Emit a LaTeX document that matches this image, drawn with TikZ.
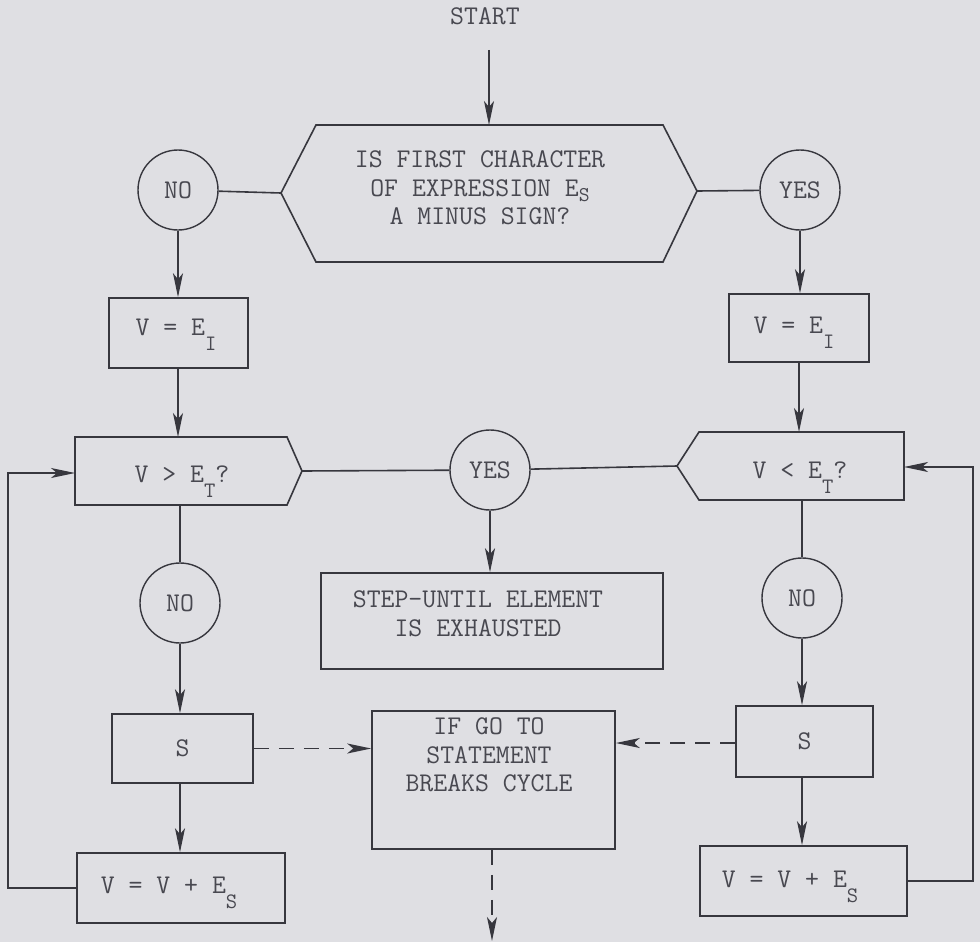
\documentclass[tikz,border=0pt]{standalone}
\usetikzlibrary{arrows.meta}
\definecolor{bg}{RGB}{223,223,227}
\definecolor{ink}{RGB}{55,55,62}
\definecolor{txtc}{RGB}{72,72,80}
\newcommand\subI[1]{\raisebox{-15pt}{\fontsize{22}{22}\selectfont #1}}
\newcommand\subH[1]{\raisebox{-5pt}{\fontsize{21}{21}\selectfont #1}}
\begin{document}
\begin{tikzpicture}[x=1pt,y=-1pt,
  every node/.style={font=\fontsize{27}{28.5}\selectfont\ttfamily, text=txtc},
  box/.style={draw=ink, line width=1.6pt, rectangle, inner sep=0pt},
  circ/.style={draw=ink, line width=1.4pt, circle, minimum size=80pt, inner sep=0pt},
  line/.style={draw=ink, line width=1.6pt},
  arr/.style={line, -{Stealth[length=24pt,width=10pt,inset=6pt]}},
  darr/.style={arr, dash pattern=on 15pt off 10pt}]
\fill[bg] (0,0) rectangle (980,942);
\useasboundingbox (0,0) rectangle (980,942);

% ---- top
\node[anchor=base] (start) at (485,25) {START};
\coordinate (s0) at (489,50);
\coordinate (hexT) at (489,125);
\coordinate (hexL) at (281,193);
\coordinate (hexR) at (697,191);
\draw[line, line join=miter] (316,125) -- (663,125) -- (hexR) -- (663,262) -- (316,262) -- (hexL) -- cycle;
\node[align=center] (hexText) at (480,188) {IS FIRST CHARACTER\\OF EXPRESSION E\subH{S}\\A MINUS SIGN?};
\draw[arr] (s0) -- (hexT);

\node[circ] (noT) at (178,190) {NO};
\node[circ] (yesT) at (800,190) {YES};
\draw[line] (noT) -- (hexL);
\draw[line] (hexR) -- (yesT);

% ---- V = E_I boxes
\node[box, minimum width=139pt, minimum height=70pt] (bL1) at (178.5,333) {};
\node[anchor=base] (tL1) at (176,335) {V = E\subI{I}};
\node[box, minimum width=140pt, minimum height=68pt] (bR1) at (799,328) {};
\node[anchor=base] (tR1) at (794,333) {V = E\subI{I}};
\draw[arr] (noT) -- (noT |- bL1.north);
\draw[arr] (yesT) -- (yesT |- bR1.north);

% ---- pentagons
\coordinate (pLtop) at (178,437);
\coordinate (pLtip) at (302,471);
\coordinate (pLbot) at (180,505);
\coordinate (pLleft) at (75,473);
\draw[line, line join=miter] (75,437) -- (287,437) -- (pLtip) -- (287,505) -- (75,505) -- cycle;
\node[anchor=base] (tpL) at (182,482) {V > E\subI{T}?};

\coordinate (pRtop) at (799,432);
\coordinate (pRtip) at (677,466);
\coordinate (pRbot) at (802,500);
\coordinate (pRright) at (904,467);
\draw[line, line join=miter] (pRtip) -- (699,432) -- (904,432) -- (904,500) -- (699,500) -- cycle;
\node[anchor=base] (tpR) at (800,478) {V < E\subI{T}?};

\draw[arr] (bL1.south -| pLtop) -- (pLtop);
\draw[arr] (bR1.south -| pRtop) -- (pRtop);

% ---- middle YES and step-until
\node[circ] (yesM) at (490,470) {YES};
\draw[line] (pLtip) -- (yesM);
\draw[line] (yesM) -- (pRtip);
\node[box, minimum width=342pt, minimum height=96pt] (step) at (492,621) {};
\node[align=center] (tstep) at (478,613.5) {STEP-UNTIL ELEMENT\\IS EXHAUSTED};
\draw[arr] (yesM) -- (yesM |- step.north);

% ---- lower NO circles
\node[circ] (noL) at (180,603) {NO};
\node[circ] (noR) at (802,598) {NO};
\draw[line] (pLbot) -- (noL);
\draw[line] (pRbot) -- (noR);

% ---- S boxes
\node[box, minimum width=141pt, minimum height=69pt] (sL) at (182.5,748.5) {S};
\node[box, minimum width=137pt, minimum height=71pt] (sR) at (804.5,741.5) {S};
\draw[arr] (noL) -- (noL |- sL.north);
\draw[arr] (noR) -- (noR |- sR.north);

% ---- IF GO TO box
\node[box, minimum width=243pt, minimum height=138pt] (ifb) at (493.5,780) {};
\node[align=center] (tif) at (489,755) {IF GO TO\\STATEMENT\\BREAKS CYCLE};
\draw[darr] (sL.east) -- (sL.east -| ifb.west);
\draw[darr] (sR.west |- 0,743) -- (ifb.east |- 0,743);
\coordinate (endD) at (492,941);
\draw[darr] (ifb.south -| endD) -- (endD);

% ---- V = V + E_S boxes
\node[box, minimum width=208pt, minimum height=70pt] (vvL) at (181,888) {};
\node[anchor=base] (tvvL) at (169,893) {V = V + E\subI{S}};
\node[box, minimum width=207pt, minimum height=70pt] (vvR) at (803.5,881) {};
\node[anchor=base] (tvvR) at (790,887) {V = V + E\subI{S}};
\draw[arr] (noL |- sL.south) -- (noL |- vvL.north);
\draw[arr] (noR |- sR.south) -- (noR |- vvR.north);

% ---- loops
\coordinate (lx) at (8,0);
\coordinate (rx) at (973,0);
\draw[arr] (vvL.west) -| (lx |- pLleft) -- (pLleft);
\draw[arr] (vvR.east) -| (rx |- pRright) -- (pRright);
\end{tikzpicture}
\end{document}
